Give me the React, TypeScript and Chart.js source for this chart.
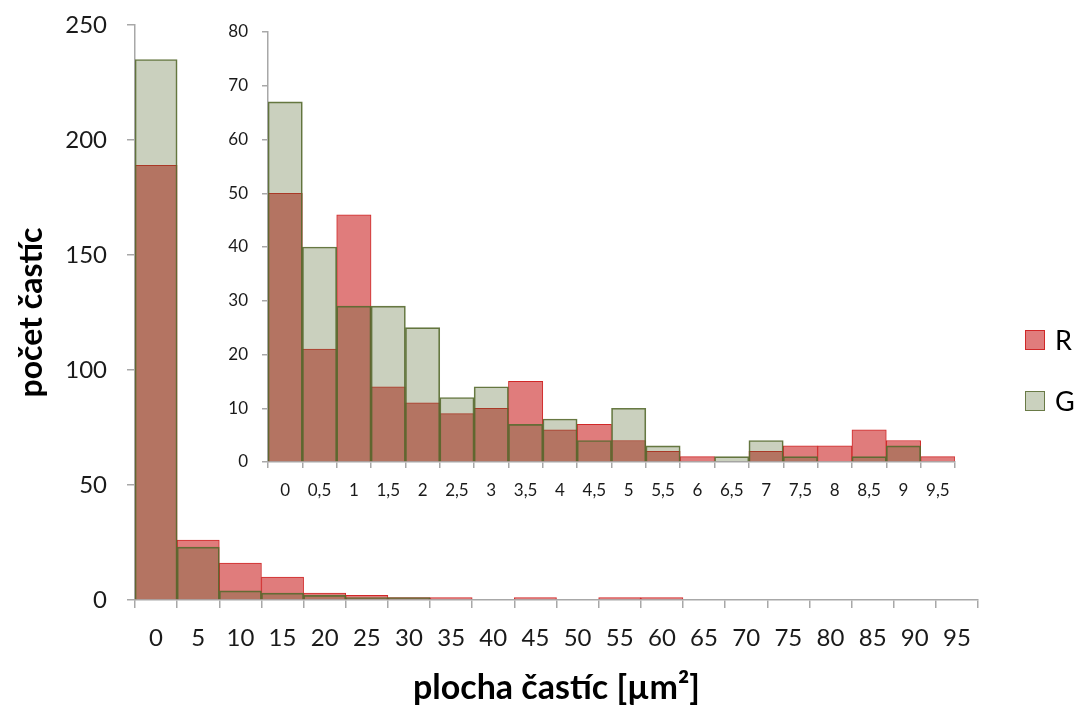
import React, { useEffect, useRef } from 'react';
import { Chart, registerables } from 'chart.js';

Chart.register(...registerables);

// ---- data ----
const seriesNames = ['R', 'G'];
const mainCategories = ['0', '5', '10', '15', '20', '25', '30', '35', '40', '45', '50', '55', '60', '65', '70', '75', '80', '85', '90', '95'];
const mainR = [189, 26, 16, 10, 3, 2, 1, 1, 0, 1, 0, 1, 1, 0, 0, 0, 0, 0, 0, 0];
const mainG = [235, 23, 4, 3, 2, 1, 1, 0, 0, 0, 0, 0, 0, 0, 0, 0, 0, 0, 0, 0];
const mainYTicks = [0, 50, 100, 150, 200, 250];

const insetCategories = ['0', '0,5', '1', '1,5', '2', '2,5', '3', '3,5', '4', '4,5', '5', '5,5', '6', '6,5', '7', '7,5', '8', '8,5', '9', '9,5'];
const insetR = [50, 21, 46, 14, 11, 9, 10, 15, 6, 7, 4, 2, 1, 0, 2, 3, 3, 6, 4, 1];
const insetG = [67, 40, 29, 29, 25, 12, 14, 7, 8, 4, 10, 3, 0, 1, 4, 1, 0, 1, 3, 0];
const insetYTicks = [0, 10, 20, 30, 40, 50, 60, 70, 80];

const xTitle = 'plocha častíc [µm²]';
const yTitle = 'počet častíc';

// ---- styles ----
const FONT = 'Lato';
const R_FILL = 'rgb(224,124,124)';
const R_BORDER = 'rgb(208,40,40)';
const G_FILL = 'rgba(79,98,40,0.3)';
const G_BORDER = 'rgba(88,108,48,0.9)';
const AXIS = '#a8a8a8';
const TEXT = '#1a1a1a';

const nz = (arr: number[]) => arr.map((v) => (v === 0 ? null : v));

function makeDatasets(r: number[], g: number[]) {
  return [
    {
      label: seriesNames[0],
      data: nz(r),
      backgroundColor: R_FILL,
      borderColor: R_BORDER,
      borderWidth: 1,
      order: 1,
      barPercentage: 1,
      categoryPercentage: 1,
      grouped: false,
    },
    {
      label: seriesNames[1],
      data: nz(g),
      backgroundColor: G_FILL,
      borderColor: G_BORDER,
      borderWidth: 1,
      order: 0,
      barPercentage: 1,
      categoryPercentage: 1,
      grouped: false,
    },
  ];
}

const legendPlugin = {
  id: 'manualLegend',
  afterDraw(chart: any) {
    const ctx = chart.ctx;
    const items = [
      { name: seriesNames[0], fill: R_FILL, stroke: R_BORDER, y: 330 },
      { name: seriesNames[1], fill: 'rgb(202,209,190)', stroke: 'rgb(105,122,70)', y: 391 },
    ];
    ctx.save();
    items.forEach((it) => {
      ctx.fillStyle = it.fill;
      ctx.fillRect(1025, it.y, 20, 20);
      ctx.strokeStyle = it.stroke;
      ctx.lineWidth = 1;
      ctx.strokeRect(1025.5, it.y + 0.5, 19, 19);
      ctx.fillStyle = '#000';
      ctx.font = `27px ${FONT}`;
      ctx.textBaseline = 'middle';
      ctx.textAlign = 'left';
      ctx.fillText(it.name, 1055, it.y + 11);
    });
    ctx.restore();
  },
};

export default function App() {
  const mainRef = useRef<HTMLCanvasElement | null>(null);
  const insetRef = useRef<HTMLCanvasElement | null>(null);

  useEffect(() => {
    document.body.style.margin = '0';
    Chart.defaults.font.family = FONT;
    Chart.defaults.color = TEXT;

    const main = new Chart(mainRef.current as HTMLCanvasElement, {
      type: 'bar',
      data: { labels: mainCategories, datasets: makeDatasets(mainR, mainG) as any },
      options: {
        responsive: false,
        animation: false,
        devicePixelRatio: 1,
        layout: { padding: { top: 25, right: 102, left: 0, bottom: 0 } },
        plugins: { legend: { display: false }, tooltip: { enabled: false } },
        scales: {
          x: {
            offset: true,
            grid: { display: true, drawOnChartArea: false, drawTicks: true, tickLength: 8, color: AXIS, lineWidth: 1.5, offset: true },
            border: { display: true, color: AXIS, width: 1.5 },
            ticks: { padding: 16, font: { size: 24, family: FONT }, color: TEXT, maxRotation: 0, autoSkip: false },
            title: { display: true, text: xTitle, font: { size: 34, weight: 'bold', family: FONT }, color: '#000', padding: { top: 0, bottom: 2 } },
            afterFit: (s: any) => { s.height = 110; },
          },
          y: {
            min: 0,
            max: 250,
            afterBuildTicks: (s: any) => { s.ticks = mainYTicks.map((v) => ({ value: v })); },
            grid: { display: true, drawOnChartArea: false, drawTicks: true, tickLength: 8, color: AXIS, lineWidth: 1.5 },
            border: { display: true, color: AXIS, width: 1.5 },
            ticks: { padding: 20, font: { size: 24, family: FONT }, color: TEXT },
            title: { display: true, text: yTitle, font: { size: 32, weight: 'bold', family: FONT }, color: '#000', padding: { top: 12, bottom: 0 } },
            afterFit: (s: any) => { s.width = 135; s.paddingTop = 0; },
          },
        },
      } as any,
      plugins: [legendPlugin],
    });

    const inset = new Chart(insetRef.current as HTMLCanvasElement, {
      type: 'bar',
      data: { labels: insetCategories, datasets: makeDatasets(insetR, insetG) as any },
      options: {
        responsive: false,
        animation: false,
        devicePixelRatio: 1,
        layout: { padding: { top: 32, right: 25, left: 0, bottom: 0 } },
        plugins: { legend: { display: false }, tooltip: { enabled: false } },
        scales: {
          x: {
            offset: true,
            grid: { display: true, drawOnChartArea: false, drawTicks: true, tickLength: 6, color: AXIS, lineWidth: 1.5, offset: true },
            border: { display: true, color: AXIS, width: 1.5 },
            ticks: { padding: 12, font: { size: 17, family: FONT }, color: TEXT, maxRotation: 0, autoSkip: false },
            afterFit: (s: any) => { s.height = 58; },
          },
          y: {
            min: 0,
            max: 80,
            afterBuildTicks: (s: any) => { s.ticks = insetYTicks.map((v) => ({ value: v })); },
            grid: { display: true, drawOnChartArea: false, drawTicks: true, tickLength: 6, color: AXIS, lineWidth: 1.5 },
            border: { display: true, color: AXIS, width: 1.5 },
            ticks: { padding: 14, font: { size: 17, family: FONT }, color: TEXT },
            afterFit: (s: any) => { s.width = 68; s.paddingTop = 0; },
          },
        },
      } as any,
    });

    return () => {
      main.destroy();
      inset.destroy();
    };
  }, []);

  return (
    <div style={{ position: 'relative', width: 1080, height: 710, background: '#fff' }}>
      <canvas ref={mainRef} width={1080} height={710} style={{ position: 'absolute', left: 0, top: 0 }} />
      <canvas ref={insetRef} width={780} height={520} style={{ position: 'absolute', left: 200, top: 0 }} />
    </div>
  );
}
